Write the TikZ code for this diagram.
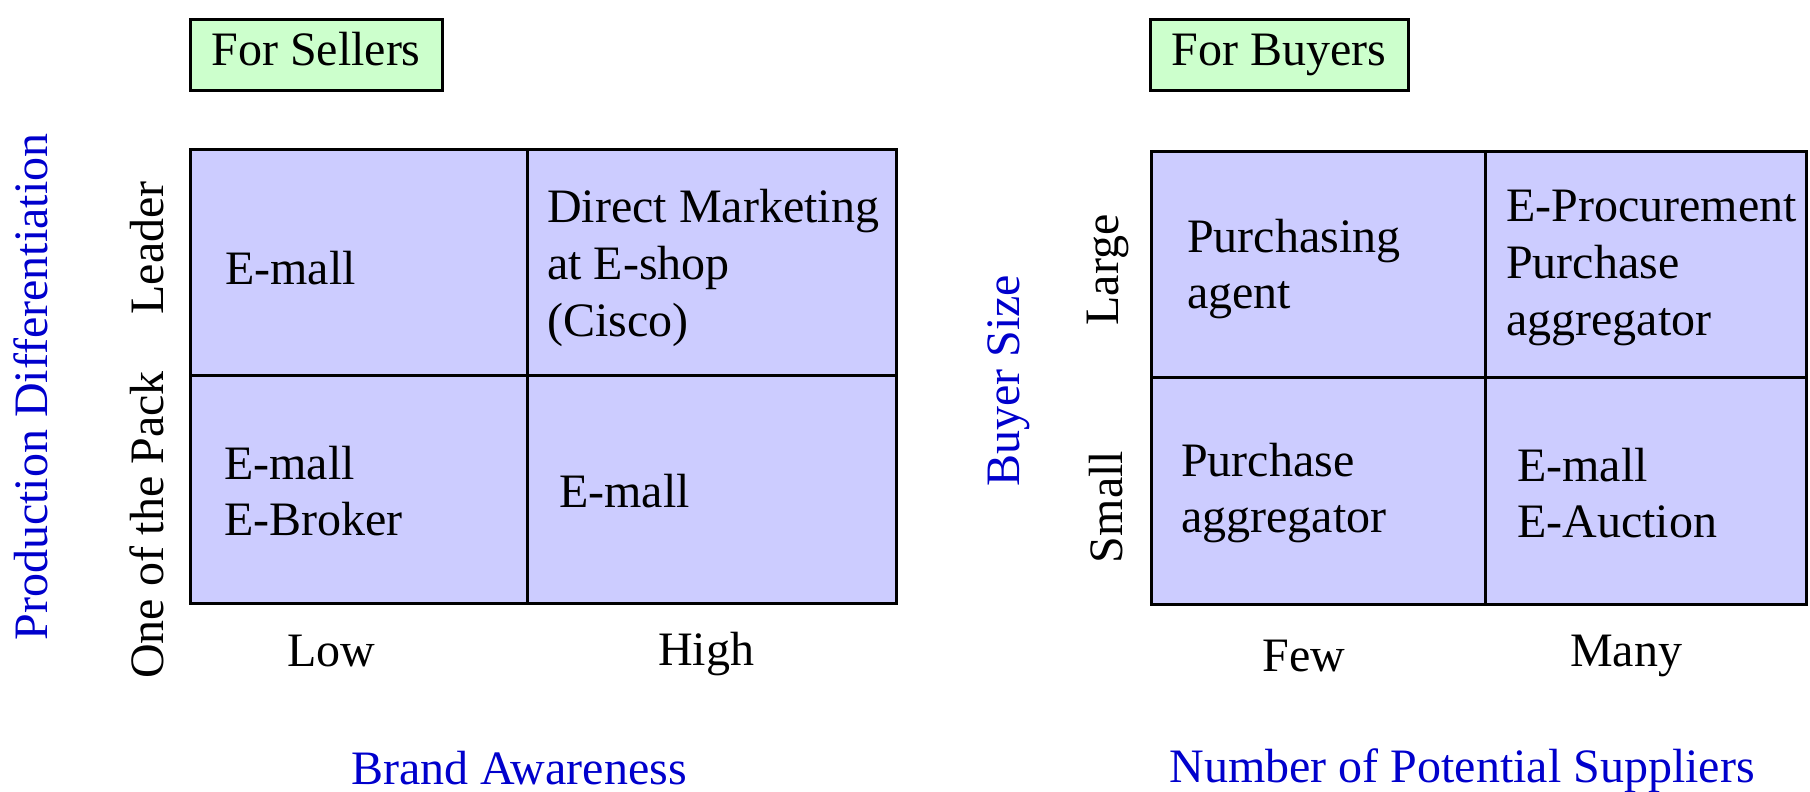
\documentclass[tikz,border=0pt]{standalone}
\usepackage{fontspec}
\setmainfont{Liberation Serif}
\definecolor{cellfill}{HTML}{CCCCFF}
\definecolor{tagfill}{HTML}{CCFFCC}
\definecolor{axisblue}{HTML}{0000CC}
\begin{document}
\begin{tikzpicture}[x=1pt,y=-1pt,
  cell/.style={draw=black,line width=3pt,fill=cellfill},
  tag/.style={draw=black,line width=3pt,fill=tagfill,minimum width=252pt,minimum height=71pt,inner sep=0pt,text height=32pt,text depth=10pt,font=\fontsize{48}{56.6}\selectfont},
  txt/.style={inner sep=0pt,align=left,font=\fontsize{48}{56.6}\selectfont},
  ctxt/.style={inner sep=0pt,font=\fontsize{48}{56.6}\selectfont},
  axis/.style={inner sep=0pt,text=axisblue,font=\fontsize{48}{56.6}\selectfont}]
\useasboundingbox (0,0) rectangle (1810,792);
% tags
\node[tag] (sellers) at (316,55) {For Sellers};
\node[tag,minimum width=258pt] (buyers) at (1279,55) {For Buyers};
% left grid
\draw[cell] (190,149) rectangle (527,375);
\draw[cell] (527,149) rectangle (896,375);
\draw[cell] (190,375) rectangle (527,603);
\draw[cell] (527,375) rectangle (896,603);
\node[txt,anchor=west] (l1) at (225,268) {E-mall};
\node[txt,anchor=west] (l2) at (547,268) {Direct Marketing\\at E-shop\\(Cisco)};
\node[txt,anchor=west] (l3) at (224,491) {E-mall\\E-Broker};
\node[txt,anchor=west] (l4) at (559,491) {E-mall};
\node[ctxt] (low) at (331,651) {Low};
\node[ctxt] (high) at (706,654) {High};
\node[axis] (brand) at (519,768) {Brand Awareness};
\node[ctxt,rotate=90] (leader) at (147,248) {Leader};
\node[ctxt,rotate=90] (pack) at (147,525) {One of the Pack};
\node[axis,rotate=90] (prod) at (31,387) {Production Differentiation};
% right grid
\draw[cell] (1151,151) rectangle (1485,377);
\draw[cell] (1485,151) rectangle (1806,377);
\draw[cell] (1151,377) rectangle (1485,604);
\draw[cell] (1485,377) rectangle (1806,604);
\node[txt,anchor=west] (r1) at (1187,269) {Purchasing\\agent};
\node[txt,anchor=west] (r2) at (1506,268) {E-Procurement\\Purchase\\aggregator};
\node[txt,anchor=west] (r3) at (1181,493) {Purchase\\aggregator};
\node[txt,anchor=west] (r4) at (1517,493) {E-mall\\E-Auction};
\node[ctxt] (few) at (1304,656) {Few};
\node[ctxt] (many) at (1626,656) {Many};
\node[axis,anchor=base] (num) at (1462,782) {Number of Potential Suppliers};
\node[ctxt,rotate=90] (large) at (1108,270) {Large};
\node[ctxt,rotate=90] (small) at (1106,507) {Small};
\node[axis,rotate=90] (bsize) at (1009,381) {Buyer Size};
\end{tikzpicture}
\end{document}
